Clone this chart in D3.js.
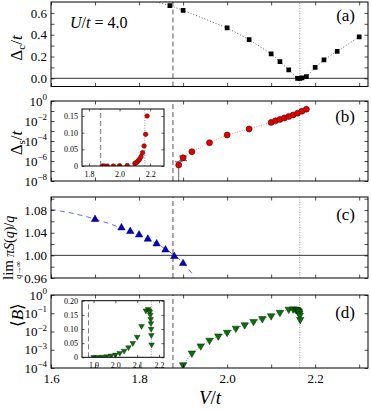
<!DOCTYPE html>
<html>
<head>
<meta charset="utf-8">
<script src="https://cdn.jsdelivr.net/npm/d3@7"></script>
<style>
  body { margin: 0; background: #fff; }
  svg { display: block; font-family: "Liberation Serif", serif; }
</style>
</head>
<body>
<svg id="chart" width="371" height="410"></svg>
<script>
// transition points
const vDash = 1.877;
const vDot = 2.165;

// (a) charge gap
const gapV = [1.80, 1.87, 1.90, 2.00, 2.05, 2.10, 2.12, 2.14, 2.16, 2.165, 2.17, 2.18, 2.20, 2.22, 2.25, 2.30];
const gapC = [0.745, 0.667, 0.624, 0.462, 0.355, 0.224, 0.153, 0.077, 0.0, 0.0, 0.004, 0.015, 0.101, 0.169, 0.248, 0.380];

// (b) spin gap
const spinV = [1.89, 1.90, 1.92, 1.96, 2.00, 2.05, 2.10, 2.11, 2.12, 2.13, 2.14, 2.15, 2.16, 2.17, 2.18];
const spinGap = [4e-7, 2.1e-6, 8.5e-6, 6.8e-5, 4e-4, 1.6e-3, 0.0072, 0.0105, 0.0145, 0.020, 0.028, 0.040, 0.060, 0.095, 0.150];
const spinErr = [4.5e-7, 1.0e-6, 0, 0, 0, 0, 0, 0, 0, 0, 0, 0, 0, 0, 0];

// (c) structure factor slope
const structV = [1.70, 1.76, 1.78, 1.80, 1.82, 1.84, 1.86, 1.88, 1.90];
const structS = [1.0635, 1.0487, 1.0423, 1.0363, 1.0287, 1.0204, 1.0097, 0.998, 0.9857];
const fitV = [1.60, 1.65, 1.70, 1.75, 1.80, 1.85, 1.88, 1.90, 1.925];
const fitS = [1.081, 1.074, 1.064, 1.051, 1.035, 1.016, 1.000, 0.987, 0.963];

// (d) bond order
const bondV = [1.90, 1.92, 1.94, 1.96, 1.98, 2.00, 2.02, 2.04, 2.06, 2.08, 2.10, 2.12, 2.14, 2.15, 2.155, 2.158, 2.16, 2.162, 2.163, 2.164, 2.165, 2.166];
const bond = [1.5e-4, 6.5e-4, 1.6e-3, 3.3e-3, 5.6e-3, 9e-3, 0.015, 0.023, 0.035, 0.050, 0.072, 0.110, 0.165, 0.170, 0.165, 0.160, 0.150, 0.135, 0.120, 0.100, 0.078, 0.045];

// ticks
const xMajor = [1.6, 1.8, 2.0, 2.2];
const xMinor = [1.6, 1.7, 1.8, 1.9, 2.0, 2.1, 2.2, 2.3];
const aTicks = [0, 0.2, 0.4, 0.6];
const aMinor = [0, 0.1, 0.2, 0.3, 0.4, 0.5, 0.6];
const bTicks = [1e-8, 1e-6, 1e-4, 1e-2, 1];
const bMinor = [1e-8, 1e-7, 1e-6, 1e-5, 1e-4, 1e-3, 1e-2, 1e-1, 1];
const cTicks = [0.96, 1.00, 1.04, 1.08];
const cMinor = [0.96, 0.98, 1.00, 1.02, 1.04, 1.06, 1.08, 1.10];
const dTicks = [1e-4, 1e-3, 1e-2, 1e-1, 1];
const insBx = [1.8, 2.0, 2.2];
const insBy = [0, 0.05, 0.10, 0.15];
const insDx = [1.9, 2.0, 2.1, 2.2];
const insDy = [0, 0.05, 0.10, 0.15, 0.20];

const svg = d3.select("#chart");
const x = d3.scaleLinear().domain([1.6, 2.32]).range([51, 368]);

const yA = d3.scaleLinear().domain([-0.075, 0.70]).range([86.5, 2]);
const yB = d3.scaleLog().domain([1e-8, 1]).range([181, 101]);
const yC = d3.scaleLinear().domain([0.96, 1.103]).range([278, 197]);
const yD = d3.scaleLog().domain([1e-4, 1]).range([368, 295]);

const clean = (a, w = 0.7) => {
  a.select(".domain").remove();
  a.selectAll("line").attr("stroke", "#000").attr("stroke-width", w);
};

const supLabels = (a) => {
  a.selectAll(".tick text").each(function (d) {
    const e = Math.round(Math.log10(d));
    const t = d3.select(this).text(null);
    t.append("tspan").text("10");
    t.append("tspan").attr("dy", -5.5).attr("font-size", 9).text(e === 0 ? "0" : "\u2212" + -e);
  });
};

// inward ticks on all four sides + frame
function frame(g, xs, ys, xt, yt, len, w) {
  const [x0, x1] = xs.range();
  const [y0, y1] = ys.range();
  g.append("g").attr("transform", `translate(0,${y0})`)
    .call(d3.axisBottom(xs).tickValues(xt).tickSize(-len).tickFormat(""))
    .call(clean, w);
  g.append("g").attr("transform", `translate(0,${y1})`)
    .call(d3.axisTop(xs).tickValues(xt).tickSize(-len).tickFormat(""))
    .call(clean, w);
  g.append("g").attr("transform", `translate(${x0},0)`)
    .call(d3.axisLeft(ys).tickValues(yt).tickSize(-len).tickFormat(""))
    .call(clean, w);
  g.append("g").attr("transform", `translate(${x1},0)`)
    .call(d3.axisRight(ys).tickValues(yt).tickSize(-len).tickFormat(""))
    .call(clean, w);
  g.append("rect")
    .attr("x", x0).attr("y", y1)
    .attr("width", x1 - x0).attr("height", y0 - y1)
    .attr("fill", "none").attr("stroke", "#000").attr("stroke-width", 1);
}

function leftLabels(g, ys, vals, fmt, xpos, size) {
  const a = g.append("g").attr("transform", `translate(${xpos},0)`)
    .call(d3.axisLeft(ys).tickValues(vals).tickSize(0).tickPadding(4).tickFormat(fmt));
  a.attr("font-family", null).attr("font-size", size);
  a.select(".domain").remove();
  return a;
}

function bottomLabels(g, xs, vals, fmt, ypos, size, pad) {
  const a = g.append("g").attr("transform", `translate(0,${ypos})`)
    .call(d3.axisBottom(xs).tickValues(vals).tickSize(0).tickPadding(pad).tickFormat(fmt));
  a.attr("font-family", null).attr("font-size", size);
  a.select(".domain").remove();
  return a;
}

function clip(id, xs, ys) {
  const [x0, x1] = xs.range();
  const [y0, y1] = ys.range();
  svg.append("clipPath").attr("id", id).append("rect")
    .attr("x", x0).attr("y", y1).attr("width", x1 - x0).attr("height", y0 - y1);
  return svg.append("g").attr("clip-path", `url(#${id})`);
}

function vLines(g, xs, ys, w) {
  const [y0, y1] = ys.range();
  g.append("line").attr("x1", xs(vDash)).attr("x2", xs(vDash)).attr("y1", y0).attr("y2", y1)
    .attr("stroke", "#555").attr("stroke-width", w).attr("stroke-dasharray", "5,3");
  g.append("line").attr("x1", xs(vDot)).attr("x2", xs(vDot)).attr("y1", y0).attr("y2", y1)
    .attr("stroke", "#888").attr("stroke-width", 0.8).attr("stroke-dasharray", "1,1.5");
}

function panelLabel(txt, yBase) {
  svg.append("text").attr("x", 355).attr("y", yBase).attr("text-anchor", "end")
    .attr("font-size", 17).text(txt);
}

// ---------- panel (a)
{
  const g = clip("clipA", x, yA);
  vLines(g, x, yA, 1);
  g.append("line").attr("x1", 51).attr("x2", 368).attr("y1", yA(0)).attr("y2", yA(0))
    .attr("stroke", "#333").attr("stroke-width", 1);
  const pts = gapV.map((v, i) => [v, gapC[i]]);
  g.append("path").datum(pts)
    .attr("d", d3.line().x((d) => x(d[0])).y((d) => yA(d[1])))
    .attr("fill", "none").attr("stroke", "#444").attr("stroke-width", 0.8)
    .attr("stroke-dasharray", "1,2");
  g.selectAll(".sq").data(pts).join("path")
    .attr("transform", (d) => `translate(${x(d[0])},${yA(d[1])})`)
    .attr("d", d3.symbol(d3.symbolSquare, 22))
    .attr("fill", "#000");
  frame(svg.append("g"), x, yA, xMinor, aMinor, 3.5, 0.7);
  leftLabels(svg, yA, aTicks, d3.format(".1f"), 51, 13);
  panelLabel("(a)", 21);
  const t = svg.append("text").attr("x", 70).attr("y", 28).attr("font-size", 16);
  t.append("tspan").attr("font-style", "italic").text("U");
  t.append("tspan").text("/");
  t.append("tspan").attr("font-style", "italic").text("t");
  t.append("tspan").text(" = 4.0");
}

// ---------- panel (b)
{
  const g = clip("clipB", x, yB);
  vLines(g, x, yB, 1);
  const pts = spinV.map((v, i) => [v, spinGap[i], spinErr[i]]);
  g.append("path").datum(pts.slice(1))
    .attr("d", d3.line().x((d) => x(d[0])).y((d) => yB(d[1])))
    .attr("fill", "none").attr("stroke", "#f88").attr("stroke-width", 0.9)
    .attr("stroke-dasharray", "1,1.5");
  const eb = pts.filter((d) => d[2] > 0);
  const lowY = (d) => (d[1] - d[2] > 0 ? yB(d[1] - d[2]) : 190);
  g.selectAll(".err").data(eb).join("line")
    .attr("x1", (d) => x(d[0])).attr("x2", (d) => x(d[0]))
    .attr("y1", (d) => yB(d[1] + d[2])).attr("y2", lowY)
    .attr("stroke", "#444").attr("stroke-width", 0.8);
  g.selectAll(".capT").data(eb).join("line")
    .attr("x1", (d) => x(d[0]) - 4).attr("x2", (d) => x(d[0]) + 4)
    .attr("y1", (d) => yB(d[1] + d[2])).attr("y2", (d) => yB(d[1] + d[2]))
    .attr("stroke", "#444").attr("stroke-width", 0.8);
  g.selectAll(".capB").data(eb.filter((d) => d[1] - d[2] > 0)).join("line")
    .attr("x1", (d) => x(d[0]) - 4).attr("x2", (d) => x(d[0]) + 4)
    .attr("y1", lowY).attr("y2", lowY)
    .attr("stroke", "#444").attr("stroke-width", 0.8);
  g.selectAll("circle").data(pts).join("circle")
    .attr("cx", (d) => x(d[0])).attr("cy", (d) => yB(d[1])).attr("r", 3)
    .attr("fill", "#e00000").attr("stroke", "#500").attr("stroke-width", 0.6);
  frame(svg.append("g"), x, yB, xMinor, bMinor, 3.5, 0.7);
  leftLabels(svg, yB, bTicks, "", 51, 13).call(supLabels);
  panelLabel("(b)", 122);

  // inset
  const xi = d3.scaleLinear().domain([1.755, 2.29]).range([82, 164]);
  const yi = d3.scaleLinear().domain([0, 0.171]).range([166, 109]);
  svg.append("rect").attr("x", 82).attr("y", 109).attr("width", 82).attr("height", 57).attr("fill", "#fff");
  const gi = clip("clipBi", xi, yi);
  vLines(gi, xi, yi, 0.8);
  gi.selectAll("circle").data(pts).join("circle")
    .attr("cx", (d) => xi(d[0])).attr("cy", (d) => yi(d[1])).attr("r", 2.3)
    .attr("fill", "#e00000").attr("stroke", "#500").attr("stroke-width", 0.5);
  frame(svg.append("g"), xi, yi, insBx, insBy, 2.5, 0.6);
  leftLabels(svg, yi, insBy, (d) => (d === 0 ? "0" : d3.format(".2f")(d)), 82, 8);
  bottomLabels(svg, xi, insBx, d3.format(".1f"), 166, 8, 5);
}

// ---------- panel (c)
{
  const g = clip("clipC", x, yC);
  vLines(g, x, yC, 1);
  g.append("line").attr("x1", 51).attr("x2", 368).attr("y1", yC(1)).attr("y2", yC(1))
    .attr("stroke", "#333").attr("stroke-width", 1);
  const fit = fitV.map((v, i) => [v, fitS[i]]);
  g.append("path").datum(fit)
    .attr("d", d3.line().curve(d3.curveMonotoneX).x((d) => x(d[0])).y((d) => yC(d[1])))
    .attr("fill", "none").attr("stroke", "#6b6bff").attr("stroke-width", 1)
    .attr("stroke-dasharray", "5,4");
  const pts = structV.map((v, i) => [v, structS[i]]);
  g.selectAll(".tri").data(pts).join("path")
    .attr("transform", (d) => `translate(${x(d[0])},${yC(d[1])})`)
    .attr("d", d3.symbol(d3.symbolTriangle, 24))
    .attr("fill", "#0000c8").attr("stroke", "#000050").attr("stroke-width", 0.5);
  frame(svg.append("g"), x, yC, xMinor, cMinor, 3.5, 0.7);
  leftLabels(svg, yC, cTicks, d3.format(".2f"), 51, 13);
  panelLabel("(c)", 220);

  const lab = svg.append("g").attr("transform", "translate(13,239) rotate(-90)");
  lab.append("text").attr("x", -31).attr("y", 0).attr("text-anchor", "middle")
    .attr("font-size", 15).text("lim");
  lab.append("text").attr("x", -31).attr("y", 7.5).attr("text-anchor", "middle")
    .attr("font-size", 8).attr("font-style", "italic").text("q\u2192\u221e");
  const m = lab.append("text").attr("x", -18).attr("y", 1).attr("font-size", 14);
  m.append("tspan").attr("font-style", "italic").text("\u03c0S");
  m.append("tspan").text("(");
  m.append("tspan").attr("font-style", "italic").text("q");
  m.append("tspan").text(")/");
  m.append("tspan").attr("font-style", "italic").text("q");
}

// ---------- panel (d)
{
  const g = clip("clipD", x, yD);
  vLines(g, x, yD, 1);
  const pts = bondV.map((v, i) => [v, bond[i]]);
  g.append("path").datum(pts)
    .attr("d", d3.line().x((d) => x(d[0])).y((d) => yD(d[1])))
    .attr("fill", "none").attr("stroke", "#3c3").attr("stroke-width", 0.9)
    .attr("stroke-dasharray", "1,1.5");
  g.selectAll(".tri").data(pts).join("path")
    .attr("transform", (d) => `translate(${x(d[0])},${yD(d[1])}) rotate(180)`)
    .attr("d", d3.symbol(d3.symbolTriangle, 24))
    .attr("fill", "#0d6a0d").attr("stroke", "#002800").attr("stroke-width", 0.5);
  frame(svg.append("g"), x, yD, xMinor, dTicks, 3.5, 0.7);
  leftLabels(svg, yD, dTicks, "", 51, 13).call(supLabels);
  bottomLabels(svg, x, xMajor, d3.format(".1f"), 368, 13, 6);
  panelLabel("(d)", 318);

  // inset
  const xi = d3.scaleLinear().domain([1.847, 2.223]).range([82, 164]);
  const yi = d3.scaleLinear().domain([0, 0.20]).range([357.3, 300.7]);
  svg.append("rect").attr("x", 82).attr("y", 300.7).attr("width", 82).attr("height", 56.6).attr("fill", "#fff");
  const gi = clip("clipDi", xi, yi);
  vLines(gi, xi, yi, 0.8);
  gi.selectAll(".tri").data(pts).join("path")
    .attr("transform", (d) => `translate(${xi(d[0])},${yi(d[1])}) rotate(180)`)
    .attr("d", d3.symbol(d3.symbolTriangle, 14))
    .attr("fill", "#0d6a0d").attr("stroke", "#002800").attr("stroke-width", 0.4);
  frame(svg.append("g"), xi, yi, insDx, insDy, 2.5, 0.6);
  leftLabels(svg, yi, insDy, (d) => (d === 0 ? "0" : d3.format(".2f")(d)), 82, 8);
  bottomLabels(svg, xi, insDx, d3.format(".1f"), 357.3, 8, 5);

  const lab = svg.append("text").attr("transform", "translate(23,315) rotate(-90)")
    .attr("text-anchor", "middle").attr("font-size", 17);
  lab.append("tspan").text("\u27e8");
  lab.append("tspan").attr("font-style", "italic").text("B");
  lab.append("tspan").text("\u27e9");
}

// y labels (a), (b)
{
  const la = svg.append("text").attr("transform", "translate(22,48) rotate(-90)")
    .attr("text-anchor", "middle").attr("font-size", 17);
  la.append("tspan").text("\u0394");
  la.append("tspan").attr("font-size", 11).attr("dy", 3).text("c");
  la.append("tspan").attr("dy", -3).text("/");
  la.append("tspan").attr("font-style", "italic").text("t");

  const lb = svg.append("text").attr("transform", "translate(22,143) rotate(-90)")
    .attr("text-anchor", "middle").attr("font-size", 17);
  lb.append("tspan").text("\u0394");
  lb.append("tspan").attr("font-size", 11).attr("dy", 3).text("s");
  lb.append("tspan").attr("dy", -3).text("/");
  lb.append("tspan").attr("font-style", "italic").text("t");
}

// x label
{
  const t = svg.append("text").attr("x", 210).attr("y", 404).attr("text-anchor", "middle")
    .attr("font-size", 19);
  t.append("tspan").attr("font-style", "italic").text("V");
  t.append("tspan").text("/");
  t.append("tspan").attr("font-style", "italic").text("t");
}
</script>
</body>
</html>
